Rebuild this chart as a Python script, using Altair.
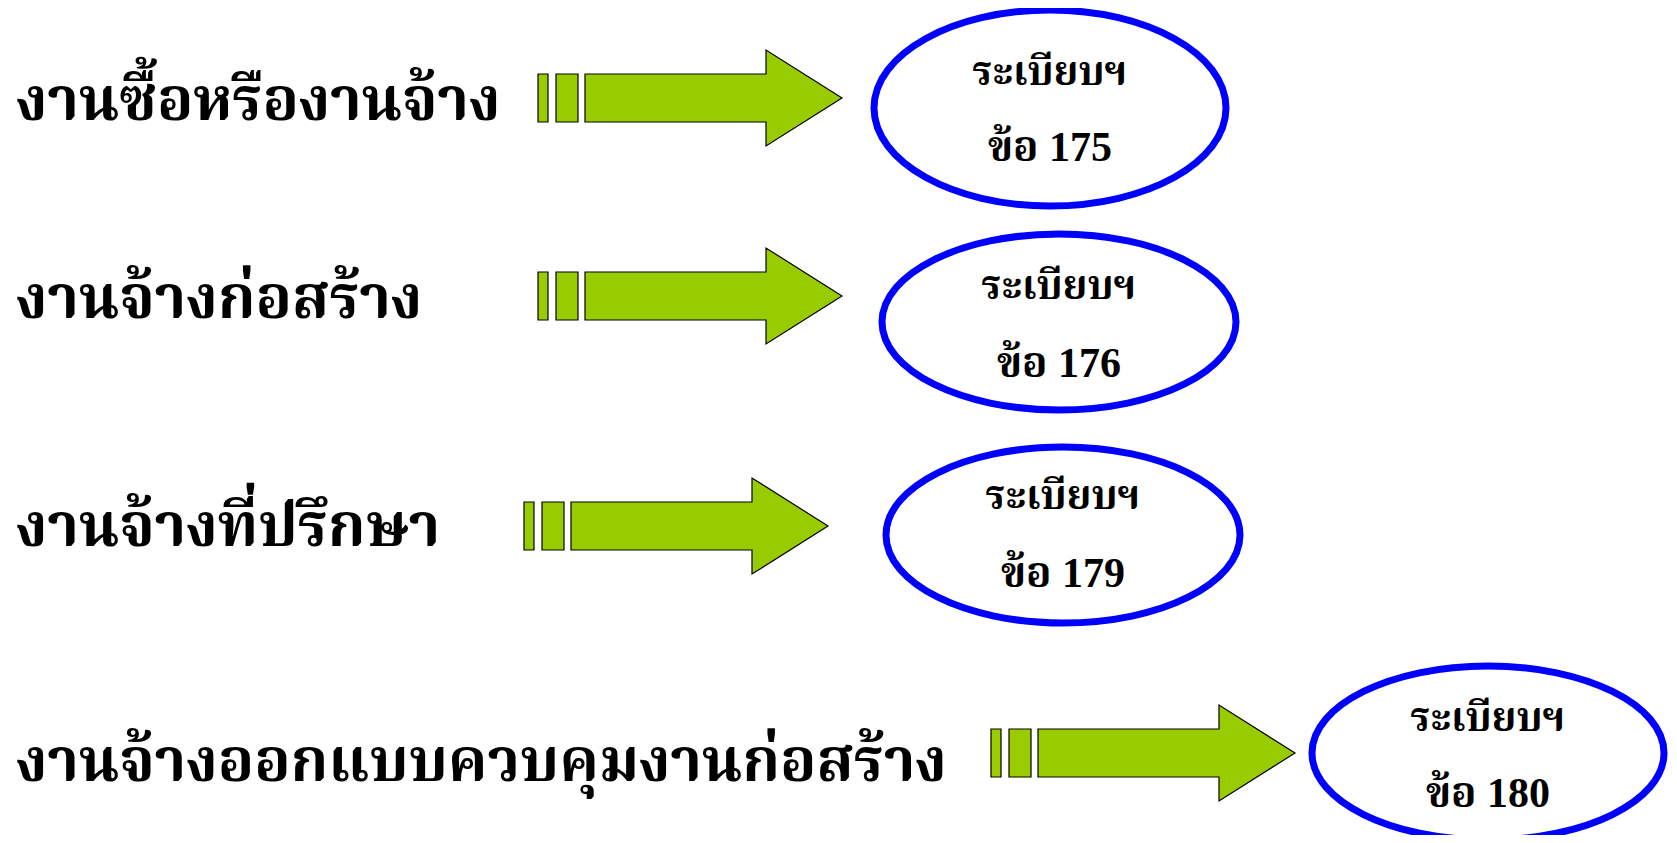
import altair as alt
import pandas as pd

# ---------------- data ----------------
categories = [
    "งานซื้อหรืองานจ้าง",
    "งานจ้างก่อสร้าง",
    "งานจ้างที่ปรึกษา",
    "งานจ้างออกแบบควบคุมงานก่อสร้าง",
]
regulation_labels = ["ระเบียบฯ", "ระเบียบฯ", "ระเบียบฯ", "ระเบียบฯ"]
clause_numbers = [175, 176, 179, 180]

# ---------------- layout (page pixels) ----------------
row_text_y = [120, 318, 546, 781]          # baseline of the left labels
arrow_x0 = [538, 538, 524, 991]
arrow_y = [98, 296, 526, 753]
ellipse_cx = [1050, 1059, 1063, 1488]
ellipse_cy = [108, 322, 535, 753]
ellipse_rx = [176, 177, 177, 176]
ellipse_ry = [98, 88, 88, 87]
line1_y = [73, 287, 497, 719]
line2_y = [148, 364, 574, 794]

# arrow geometry relative to its start
BAR1 = (0, 10)
BAR2 = (18, 40)
BODY_X0, HEAD_X0, TIP_X = 47, 228, 304
BODY_H, HEAD_H = 24, 48

THAI_FONT = "'Noto Serif Thai', 'Noto Sans Thai', Garuda, Loma, Norasi, 'Liberation Serif', serif"
NUM_FONT = "'Liberation Serif', 'Noto Serif Thai', 'Noto Sans Thai', serif"
GREEN = "#99CC00"
BLUE = "#0000FF"

W, H = 1661, 827
xs = alt.Scale(domain=[8, 8 + W], nice=False, zero=False)
ys = alt.Scale(domain=[8, 8 + H], nice=False, zero=False, reverse=True)

# ---------------- tables ----------------
labels_df = pd.DataFrame({"label": categories, "x": [16] * 4, "y": row_text_y})

bars = []
for i in range(4):
    for a, b in (BAR1, BAR2):
        bars.append({"row": i, "x": arrow_x0[i] + a, "x2": arrow_x0[i] + b,
                     "y": arrow_y[i] - BODY_H, "y2": arrow_y[i] + BODY_H})
bars_df = pd.DataFrame(bars)

arrow_pts = []
for i in range(4):
    x0, yc = arrow_x0[i], arrow_y[i]
    pts = [(BODY_X0, BODY_H, BODY_H), (HEAD_X0, BODY_H, BODY_H),
           (HEAD_X0, HEAD_H, HEAD_H), (TIP_X, 0, 0)]
    for k, (dx, up, dn) in enumerate(pts):
        arrow_pts.append({"row": i, "k": k, "x": x0 + dx, "y": yc - up, "y2": yc + dn})
arrow_df = pd.DataFrame(arrow_pts)


def ellipse_path(r):
    k = 0.5523
    return (f"M1,0 C1,{k*r:.4f} {k:.4f},{r:.4f} 0,{r:.4f} "
            f"C{-k:.4f},{r:.4f} -1,{k*r:.4f} -1,0 "
            f"C-1,{-k*r:.4f} {-k:.4f},{-r:.4f} 0,{-r:.4f} "
            f"C{k:.4f},{-r:.4f} 1,{-k*r:.4f} 1,0 Z")


ell_df = pd.DataFrame({
    "row": [str(i) for i in range(4)],
    "x": ellipse_cx, "y": ellipse_cy,
    "size": [(2 * rx) ** 2 for rx in ellipse_rx],
})
ell_paths = [ellipse_path(ry / rx) for rx, ry in zip(ellipse_rx, ellipse_ry)]

reg_df = pd.DataFrame({"t": regulation_labels, "x": ellipse_cx, "y": line1_y})
num_df = pd.DataFrame({"t": [f"ข้อ {n}" for n in clause_numbers], "x": ellipse_cx, "y": line2_y})

# ---------------- marks ----------------
left_text = alt.Chart(labels_df).mark_text(
    align="left", baseline="alphabetic", font=THAI_FONT, fontWeight="bold",
    fontSize=60, color="black"
).encode(x=alt.X("x:Q", scale=xs, axis=None), y=alt.Y("y:Q", scale=ys, axis=None), text="label:N")

bar_layer = alt.Chart(bars_df).mark_rect(fill=GREEN, stroke="black", strokeWidth=1.2).encode(
    x=alt.X("x:Q", scale=xs, axis=None), x2="x2", y=alt.Y("y:Q", scale=ys, axis=None), y2="y2")

arrow_layer = alt.Chart(arrow_df).mark_area(
    fill=GREEN, stroke="black", strokeWidth=1.2, interpolate="linear", fillOpacity=1
).encode(
    x=alt.X("x:Q", scale=xs, axis=None),
    y=alt.Y("y:Q", scale=ys, axis=None, stack=None), y2="y2",
    detail="row:N",
)

ell_layer = alt.Chart(ell_df).mark_point(
    filled=False, stroke=BLUE, strokeWidth=7, opacity=1, strokeOpacity=1
).encode(
    x=alt.X("x:Q", scale=xs, axis=None), y=alt.Y("y:Q", scale=ys, axis=None),
    shape=alt.Shape("row:N", scale=alt.Scale(domain=[str(i) for i in range(4)], range=ell_paths), legend=None),
    size=alt.Size("size:Q", scale=None),
)

reg_text = alt.Chart(reg_df).mark_text(
    align="center", baseline="middle", font=THAI_FONT, fontWeight="bold", fontSize=40, color="black"
).encode(x=alt.X("x:Q", scale=xs, axis=None), y=alt.Y("y:Q", scale=ys, axis=None), text="t:N")

num_text = alt.Chart(num_df).mark_text(
    align="center", baseline="middle", font=NUM_FONT, fontWeight="bold", fontSize=42, color="black"
).encode(x=alt.X("x:Q", scale=xs, axis=None), y=alt.Y("y:Q", scale=ys, axis=None), text="t:N")

chart = alt.layer(left_text, bar_layer, arrow_layer, ell_layer, reg_text, num_text).properties(
    width=W, height=H, padding=0, autosize=alt.AutoSizeParams(type="none"), background="white"
).configure_view(stroke=None)

chart.save("out.html", embed_options={"renderer": "svg", "actions": False})
